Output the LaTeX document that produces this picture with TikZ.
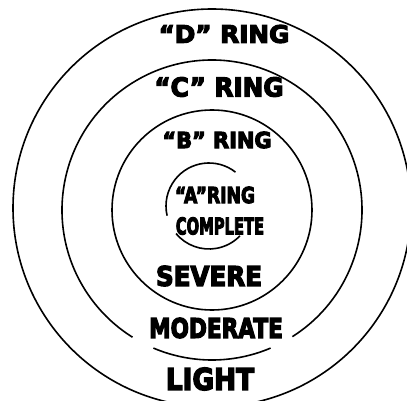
\documentclass[tikz,border=0pt]{standalone}
\usepackage{fontspec}
\usepackage{graphicx}
\setmainfont{DejaVu Sans}[BoldFeatures={FakeBold=5}]
\usetikzlibrary{positioning}
\newcommand{\ringtxt}[3]{{\fontsize{#1}{#1}\selectfont\bfseries\scalebox{#2}[1]{#3}}}

\begin{document}
\begin{tikzpicture}[x=1pt,y=-1pt,line width=1.6pt,
  lbl/.style={inner sep=0pt,anchor=center}]
\useasboundingbox (0,0) rectangle (407,401);
\coordinate (ctr) at (212,210);
\coordinate (actr) at (209,206);
% rings (y points down, so angles are negated)
\draw (212,208) circle (199);
\draw (ctr) ++(57.6:150) arc (57.6:-238:150);
\draw (ctr) ++(-247:150) arc (-247:-293:150);
\draw (ctr) circle (100);
\draw (actr) ++(-52:43) arc (-52:-193:43);
\draw (actr) ++(-220:43) arc (-220:-316:43);
% labels
\node[lbl] (dring) at (224,34) {\ringtxt{24}{1.03}{“D” RING}};
\node[lbl] (cring) at (219,87) {\ringtxt{26}{0.95}{“C” RING}};
\node[lbl] (bring) at (217,140) {\ringtxt{22}{0.95}{“B” RING}};
\node[lbl] (aring) at (215,195) {\ringtxt{22}{0.78}{“A”RING}};
\node[lbl] (complete) at (220,226) {\ringtxt{23}{0.64}{COMPLETE}};
\node[lbl] (severe) at (209,276) {\ringtxt{27}{0.91}{SEVERE}};
\node[lbl] (moderate) at (216,328) {\ringtxt{27}{0.8}{MODERATE}};
\node[lbl] (light) at (210,379) {\ringtxt{30}{0.88}{LIGHT}};
\end{tikzpicture}
\end{document}
